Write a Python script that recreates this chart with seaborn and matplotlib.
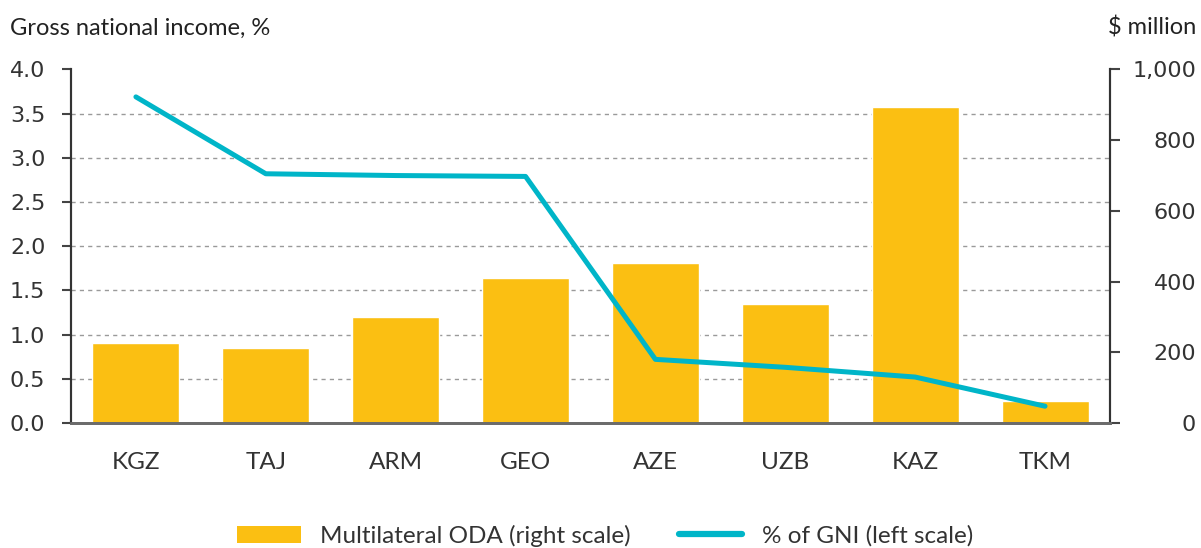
import matplotlib
matplotlib.use("Agg")
import matplotlib.pyplot as plt
import matplotlib.ticker as mticker
from matplotlib.patches import Patch
from matplotlib.lines import Line2D
import seaborn as sns
import numpy as np
import pandas as pd

economies = ["KGZ", "TAJ", "ARM", "GEO", "AZE", "UZB", "KAZ", "TKM"]
oda_musd = [226, 212, 300, 410, 453, 337, 894, 62]
gni_pct = [3.69, 2.82, 2.80, 2.79, 0.72, 0.63, 0.52, 0.19]

bar_color = "#FBBF12"
line_color = "#00B5C8"

sns.set_style("white")
plt.rcParams["font.family"] = ["DejaVu Sans"]

df = pd.DataFrame({"economy": economies, "oda": oda_musd, "gni": gni_pct})

fig, ax = plt.subplots(figsize=(12.01, 5.48), dpi=100)
fig.subplots_adjust(left=0.0591, right=0.9242, bottom=0.2281, top=0.8732)
# twin made first: twinx() moves the host's ticks, so set sides afterwards
ax2 = ax.twinx()

# bars on the base axes, right-hand scale
sns.barplot(data=df, x="economy", y="oda", color=bar_color, width=0.67,
            saturation=1, ax=ax, zorder=2)
ax.set_ylim(0, 1000)
ax.set_xlim(-0.5, len(economies) - 0.5)
ax.set_yticks(np.arange(0, 1001, 200))
ax.yaxis.set_major_formatter(mticker.StrMethodFormatter("{x:,.0f}"))
ax.yaxis.set_minor_locator(mticker.MultipleLocator(125))
ax.set_axisbelow(True)
ax.grid(axis="y", which="minor", color="#9a9a9a", linestyle=(0, (3, 3)), linewidth=1)
ax.yaxis.set_ticks_position("right")
ax.tick_params(axis="y", which="minor", left=False, right=False, length=0)
ax.tick_params(axis="y", which="major", direction="out", length=7, width=1.5,
               color="#444444", labelsize=16, labelcolor="#333333", pad=55,
               left=False, labelleft=False, right=True, labelright=True)
for t in ax.yaxis.get_major_ticks():
    t.label2.set_horizontalalignment("right")
ax.set_xlabel("")
ax.set_ylabel("")

# x axis: labels at centres, ticks at category boundaries
ax.set_xticks(range(len(economies)))
ax.set_xticklabels(economies, fontfamily="Lato", fontsize=17.5, color="#333333")
ax.set_xticks(np.arange(-0.5, len(economies), 1), minor=True)
ax.tick_params(axis="x", which="major", length=0, pad=21)
ax.tick_params(axis="x", which="minor", direction="out", length=6.5, width=1.5,
               color="#444444")

# line on the twin axes, left-hand scale
sns.lineplot(x=np.arange(len(economies)), y=gni_pct, color=line_color,
             linewidth=3.6, ax=ax2, solid_capstyle="round", zorder=3)
ax2.set_ylim(0, 4.0)
ax2.set_yticks(np.arange(0, 4.01, 0.5))
ax2.yaxis.set_major_formatter(mticker.StrMethodFormatter("{x:.1f}"))
ax2.yaxis.set_ticks_position("left")
ax2.tick_params(axis="y", direction="out", length=6.5, width=1.5, color="#444444",
                labelsize=16, labelcolor="#333333", pad=12,
                left=True, labelleft=True, right=False, labelright=False)
ax2.set_ylabel("")

for a in (ax, ax2):
    a.spines["top"].set_visible(False)
    a.spines["left"].set_color("#333333")
    a.spines["right"].set_color("#333333")
    a.spines["left"].set_linewidth(1.5)
    a.spines["right"].set_linewidth(1.5)
    a.spines["bottom"].set_color("#6b6b6b")
    a.spines["bottom"].set_linewidth(2)

fig.text(0.008, 0.949, "Gross national income, %", fontfamily="Lato", fontsize=17,
         color="#222222", ha="left", va="center")
fig.text(0.996, 0.949, "$ million", fontfamily="Lato", fontsize=17,
         color="#222222", ha="right", va="center")

handles = [Patch(facecolor=bar_color, edgecolor="none"),
           Line2D([0], [0], color=line_color, linewidth=4.5, solid_capstyle="round")]
fig.legend(handles, ["Multilateral ODA (right scale)", "% of GNI (left scale)"],
           loc="center", bbox_to_anchor=(0.504, 0.022), ncol=2, frameon=False,
           prop={"family": "Lato", "size": 17.5}, handlelength=2.6,
           handleheight=0.75, handletextpad=0.8, columnspacing=2.0,
           labelcolor="#333333")

fig.savefig("out.png", dpi=100)
